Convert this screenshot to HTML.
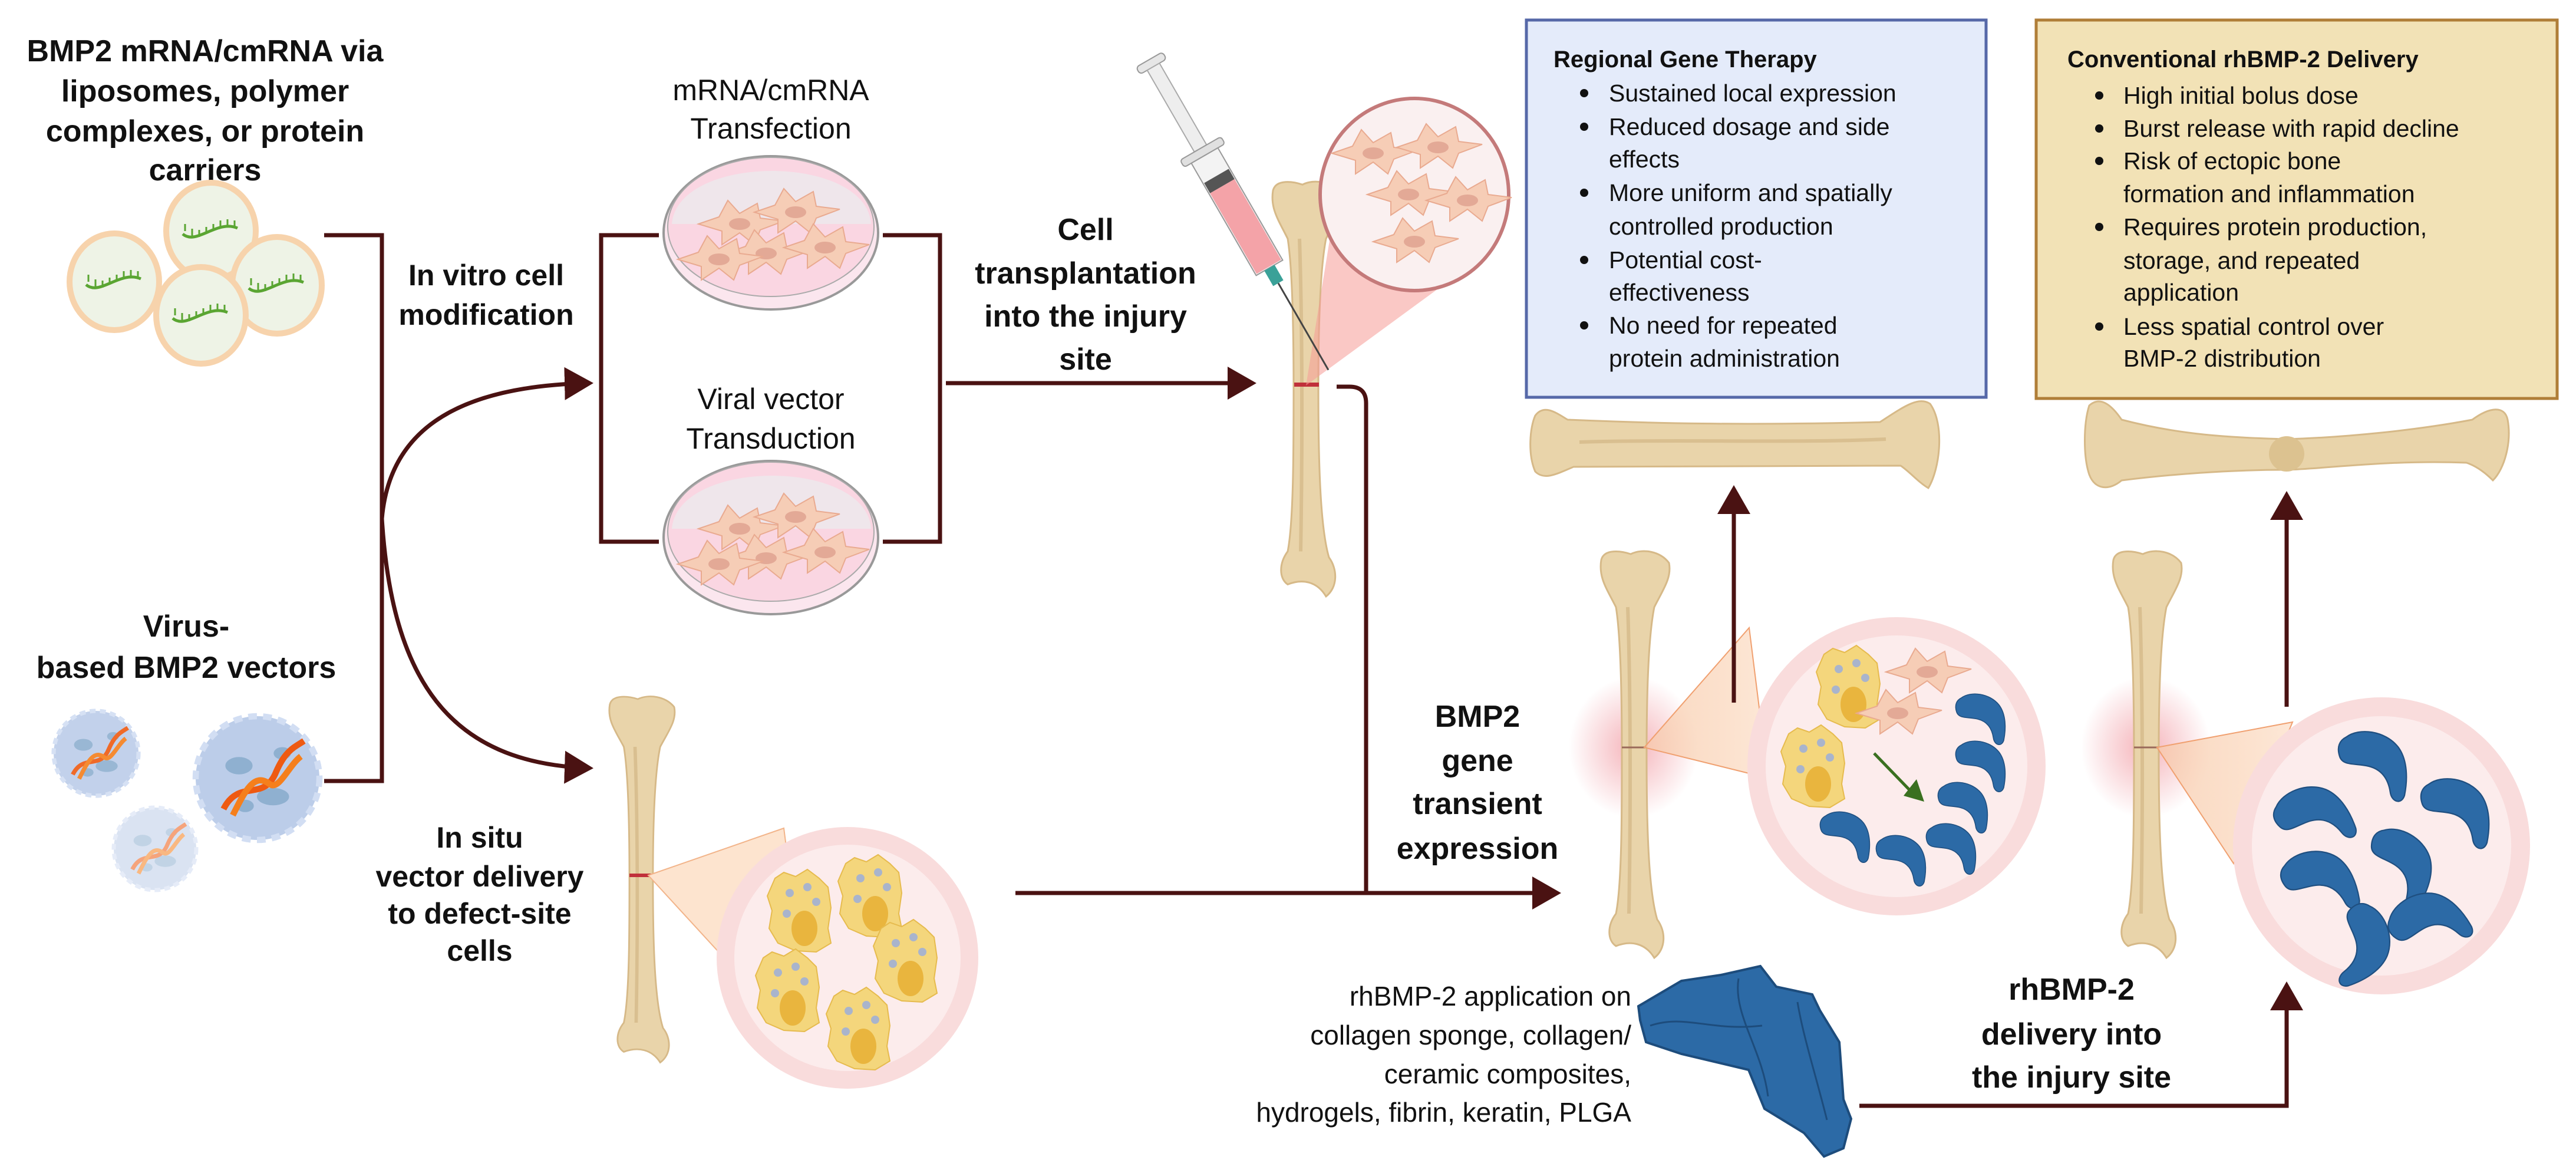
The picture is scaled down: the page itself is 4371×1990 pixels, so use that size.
<!DOCTYPE html>
<html><head><meta charset="utf-8">
<style>
html,body{margin:0;padding:0;background:#fff;}
svg{display:block;}
text{font-family:"Liberation Sans",Arial,sans-serif;}
.b{font-weight:bold;}
</style></head><body>
<svg width="4371" height="1990" viewBox="0 0 4371 1990" xmlns="http://www.w3.org/2000/svg">
<defs>
<marker id="ah" markerWidth="8" markerHeight="8" refX="6" refY="4" orient="auto" markerUnits="strokeWidth">
<path d="M0,0 L7,4 L0,8 Z" fill="#4a1212"/></marker>
<radialGradient id="glow"><stop offset="0" stop-color="#f2a0a8" stop-opacity="0.8"/><stop offset="1" stop-color="#f2a0a8" stop-opacity="0"/></radialGradient>
<linearGradient id="wedge" x1="0" x2="1"><stop offset="0" stop-color="#f7c9a8" stop-opacity="0.7"/><stop offset="1" stop-color="#fde5d2" stop-opacity="0.9"/></linearGradient>
<g id="bonev">
<path d="M-55,-330 C-50,-350 -20,-345 -5,-340 C15,-350 45,-345 60,-325 C65,-300 50,-280 35,-250 C25,-200 22,-100 22,0 C22,120 25,230 40,280 C55,300 55,330 35,345 C20,320 -5,315 -30,325 C-45,315 -45,290 -30,270 C-20,220 -20,100 -20,0 C-20,-100 -22,-200 -30,-250 C-45,-280 -60,-300 -55,-330 Z" fill="#e9d4aa" stroke="#d6b988" stroke-width="3"/>
<path d="M-10,-250 C-5,-100 -5,100 -8,270" stroke="#d9bf90" stroke-width="6" fill="none"/>
</g>
<g id="prot">
<path d="M-40,-45 C-20,-60 20,-55 40,-30 C55,-10 55,20 50,45 C45,60 30,55 28,40 C25,20 15,5 -5,0 C-25,-5 -45,0 -50,-15 C-55,-30 -50,-40 -40,-45 Z" fill="#2c6aa6" stroke="#1f4f80" stroke-width="2"/>
</g>
<g id="fib">
<path d="M-70,0 L-35,-12 L-20,-40 L0,-18 L30,-35 L35,-10 L75,-5 L35,10 L25,35 L0,15 L-30,35 L-30,12 Z" fill="#f6cdb6" stroke="#e9aa90" stroke-width="2"/>
<ellipse cx="0" cy="0" rx="18" ry="10" fill="#e3a996"/>
</g>
<g id="ycell">
<path d="M-45,-55 L-30,-65 L-10,-58 L10,-70 L30,-55 L45,-40 L50,-5 L45,30 L50,55 L25,70 L-10,68 L-40,55 L-55,30 L-50,0 L-58,-25 Z" fill="#f4d67c" stroke="#e6bb4e" stroke-width="2"/>
<ellipse cx="5" cy="30" rx="22" ry="30" fill="#e9b53e"/>
<circle cx="-20" cy="-30" r="7" fill="#a9b4cc"/><circle cx="10" cy="-40" r="7" fill="#a9b4cc"/><circle cx="25" cy="-15" r="7" fill="#a9b4cc"/><circle cx="-25" cy="5" r="7" fill="#a9b4cc"/>
</g>
<g id="lipo">
<ellipse cx="0" cy="0" rx="76" ry="82" fill="#eef3e6" stroke="#f7d3ac" stroke-width="10"/>
<path d="M-48,5 C-25,25 10,-20 45,-5" stroke="#5aa532" stroke-width="5" fill="none"/>
<path d="M-44,0 l0,-12 M-32,8 l0,-12 M-20,10 l0,-12 M-8,5 l0,-12 M4,0 l0,-12 M16,-6 l0,-12 M28,-8 l0,-12 M40,-6 l0,-12" stroke="#5aa532" stroke-width="3"/>
</g>
<g id="virus">
<circle r="100" fill="#bccde9"/>
<circle r="100" fill="none" stroke="#d2def3" stroke-width="10" stroke-dasharray="14 10"/>
<ellipse cx="-30" cy="-20" rx="22" ry="14" fill="#8fb0d0"/><ellipse cx="25" cy="30" rx="26" ry="14" fill="#8fb0d0"/><ellipse cx="-20" cy="45" rx="14" ry="10" fill="#8fb0d0"/><ellipse cx="40" cy="-40" rx="14" ry="10" fill="#8fb0d0"/>
<path d="M-55,50 C-30,0 10,40 30,-10 C45,-45 60,-50 75,-60" stroke="#ee5a12" stroke-width="10" fill="none"/>
<path d="M-40,60 C-20,20 -5,-10 20,10 C35,20 50,-20 70,-35" stroke="#f57f1c" stroke-width="10" fill="none"/>
</g>
</defs>

<g class="b" font-size="52" text-anchor="middle" fill="#111">
<text x="348" y="104" class="b">BMP2 mRNA/cmRNA via</text>
<text x="348" y="172" class="b">liposomes, polymer</text>
<text x="348" y="240" class="b">complexes, or protein</text>
<text x="348" y="306" class="b">carriers</text>
<text x="316" y="1080" class="b">Virus-</text>
<text x="316" y="1150" class="b">based BMP2 vectors</text>
</g>

<use href="#lipo" x="358" y="392"/>
<use href="#lipo" x="194" y="478"/>
<use href="#lipo" x="470" y="484"/>
<use href="#lipo" x="341" y="535"/>

<use href="#virus" transform="translate(163,1278) scale(0.72)" opacity="0.9"/>
<use href="#virus" transform="translate(263,1440) scale(0.7)" opacity="0.55"/>
<use href="#virus" transform="translate(437,1320) scale(1.05)"/>

<g stroke="#4a1212" stroke-width="7" fill="none">
<path d="M550,399 H648 V1325 H550"/>
<path d="M648,880 C660,740 760,655 1000,650" marker-end="url(#ah)"/>
<path d="M648,880 C665,1150 760,1295 1000,1303" marker-end="url(#ah)"/>
<path d="M1118,399 H1020 V919 H1118"/>
<path d="M1498,399 H1595 V919 H1498"/>
<path d="M1605,650 H2125" marker-end="url(#ah)"/>
</g>

<g class="b" font-size="50" text-anchor="middle" fill="#111">
<text x="825" y="484" class="b">In vitro cell</text>
<text x="825" y="551" class="b">modification</text>
<text x="814" y="1438" class="b">In situ</text>
<text x="814" y="1504" class="b">vector delivery</text>
<text x="814" y="1567" class="b">to defect-site</text>
<text x="814" y="1630" class="b">cells</text>
</g>
<g font-size="50" text-anchor="middle" fill="#111">
<text x="1308" y="170">mRNA/cmRNA</text>
<text x="1308" y="235">Transfection</text>
<text x="1308" y="694">Viral vector</text>
<text x="1308" y="761">Transduction</text>
</g>

<g>
<ellipse cx="1308" cy="395" rx="182" ry="130" fill="#fbe6ee" stroke="#999" stroke-width="4"/>
<ellipse cx="1308" cy="385" rx="175" ry="118" fill="#fad6e2" stroke="#aaa" stroke-width="2"/>
<path d="M1140,380 C1150,260 1470,260 1478,380" fill="#e8f0f2" opacity="0.6"/>
<use href="#fib" x="1255" y="380"/><use href="#fib" x="1350" y="360"/><use href="#fib" x="1300" y="430"/><use href="#fib" x="1400" y="420"/><use href="#fib" x="1220" y="440"/>
<ellipse cx="1308" cy="912" rx="182" ry="130" fill="#fbe6ee" stroke="#999" stroke-width="4"/>
<ellipse cx="1308" cy="902" rx="175" ry="118" fill="#fad6e2" stroke="#aaa" stroke-width="2"/>
<path d="M1140,897 C1150,777 1470,777 1478,897" fill="#e8f0f2" opacity="0.6"/>
<use href="#fib" x="1255" y="897"/><use href="#fib" x="1350" y="877"/><use href="#fib" x="1300" y="947"/><use href="#fib" x="1400" y="937"/><use href="#fib" x="1220" y="957"/>
</g>

<g class="b" font-size="52" text-anchor="middle" fill="#111">
<text x="1842" y="407" class="b">Cell</text>
<text x="1842" y="481" class="b">transplantation</text>
<text x="1842" y="554" class="b">into the injury</text>
<text x="1842" y="627" class="b">site</text>
</g>

<use href="#bonev" transform="translate(2215,660) scale(1,1.02)"/>
<rect x="2196" y="649" width="42" height="7" fill="#c0303a"/>
<path d="M2216,654 L2280,260 L2440,490 Z" fill="#f59a96" opacity="0.55"/>
<ellipse cx="2400" cy="330" rx="160" ry="163" fill="#faf0f0" stroke="#c47a7a" stroke-width="6"/>
<use href="#fib" x="2330" y="260"/><use href="#fib" x="2440" y="250"/><use href="#fib" x="2390" y="330"/><use href="#fib" x="2490" y="340"/><use href="#fib" x="2400" y="410"/>
<g transform="translate(1954,108) rotate(60)">
<rect x="-8" y="-26" width="14" height="52" rx="6" fill="#e6e6e6" stroke="#999" stroke-width="2"/>
<rect x="6" y="-12" width="160" height="24" fill="#eeeeee" stroke="#aaa" stroke-width="2"/>
<rect x="166" y="-40" width="14" height="80" rx="5" fill="#e0e0e0" stroke="#999" stroke-width="2"/>
<rect x="180" y="-26" width="220" height="52" fill="#f3f3f3" stroke="#999" stroke-width="2"/>
<rect x="220" y="-24" width="20" height="48" fill="#555"/>
<rect x="240" y="-24" width="158" height="48" fill="#f4a3a8"/>
<rect x="400" y="-10" width="30" height="20" fill="#3aa198"/>
<line x1="430" y1="0" x2="600" y2="0" stroke="#444" stroke-width="3"/>
</g>
<path d="M2268,656 H2290 Q2318,656 2318,684 V1515" stroke="#4a1212" stroke-width="7" fill="none"/>
<path d="M1723,1515 H2642" stroke="#4a1212" stroke-width="7" fill="none" marker-end="url(#ah)"/>

<use href="#bonev" transform="translate(1087,1492) scale(0.95,0.9)"/>
<rect x="1068" y="1482" width="38" height="6" fill="#c0303a"/>
<path d="M1100,1485 L1330,1405 L1380,1790 Z" fill="#fde4cf" stroke="#f2b48a" stroke-width="2"/>
<circle cx="1438" cy="1625" r="222" fill="#f9dcdc"/>
<circle cx="1438" cy="1625" r="192" fill="#fcecec"/>
<use href="#ycell" x="1360" y="1545"/><use href="#ycell" x="1480" y="1520"/><use href="#ycell" x="1540" y="1630"/><use href="#ycell" x="1340" y="1680"/><use href="#ycell" x="1460" y="1745"/>

<g class="b" font-size="52" text-anchor="middle" fill="#111">
<text x="2507" y="1233" class="b">BMP2</text>
<text x="2507" y="1308" class="b">gene</text>
<text x="2507" y="1381" class="b">transient</text>
<text x="2507" y="1457" class="b">expression</text>
<text x="3515" y="1696" class="b">rhBMP-2</text>
<text x="3515" y="1772" class="b">delivery into</text>
<text x="3515" y="1845" class="b">the injury site</text>
</g>

<ellipse cx="2772" cy="1268" rx="110" ry="120" fill="url(#glow)"/>
<use href="#bonev" transform="translate(2772,1280)"/>
<line x1="2752" y1="1268" x2="2794" y2="1268" stroke="#9a6a5a" stroke-width="3"/>
<path d="M2790,1268 L2968,1065 L3000,1320 Z" fill="url(#wedge)" stroke="#f0a070" stroke-width="2"/>
<line x1="2942" y1="1192" x2="2942" y2="830" stroke="#4a1212" stroke-width="7" marker-end="url(#ah)"/>
<circle cx="3218" cy="1300" r="253" fill="#f9dcdc"/>
<circle cx="3218" cy="1300" r="222" fill="#fcecec"/>
<use href="#ycell" x="3140" y="1165"/>
<use href="#ycell" x="3080" y="1300"/>
<use href="#fib" x="3270" y="1140"/><use href="#fib" x="3220" y="1210"/>
<line x1="3180" y1="1278" x2="3240" y2="1340" stroke="#3a7020" stroke-width="5"/>
<path d="M3230,1350 L3265,1360 L3252,1322 Z" fill="#3a7020"/>
<use href="#prot" transform="translate(3360,1220) scale(0.8)"/><use href="#prot" transform="translate(3360,1300) scale(0.8)"/><use href="#prot" transform="translate(3330,1370) scale(0.8)"/><use href="#prot" transform="translate(3310,1440) scale(0.8)"/><use href="#prot" transform="translate(3130,1420) scale(0.8)"/><use href="#prot" transform="translate(3225,1460) scale(0.8)"/>

<ellipse cx="3641" cy="1268" rx="110" ry="120" fill="url(#glow)"/>
<use href="#bonev" transform="translate(3641,1280)"/>
<line x1="3621" y1="1268" x2="3663" y2="1268" stroke="#9a6a5a" stroke-width="3"/>
<path d="M3660,1268 L3890,1225 L3790,1465 Z" fill="url(#wedge)" stroke="#f0a070" stroke-width="2"/>
<line x1="3880" y1="1199" x2="3880" y2="840" stroke="#4a1212" stroke-width="7" marker-end="url(#ah)"/>
<circle cx="4041" cy="1435" r="252" fill="#f9dcdc"/>
<circle cx="4041" cy="1435" r="220" fill="#fcecec"/>
<use href="#prot" transform="translate(4025,1300) scale(1.1)"/>
<use href="#prot" transform="translate(3925,1390) scale(1.1) rotate(-30)"/>
<use href="#prot" transform="translate(4165,1380) scale(1.1)"/>
<use href="#prot" transform="translate(3935,1500) scale(1.1) rotate(-20)"/>
<use href="#prot" transform="translate(4070,1470) scale(1.1) rotate(20)"/>
<use href="#prot" transform="translate(4000,1600) scale(1.1) rotate(60)"/>
<use href="#prot" transform="translate(4120,1570) scale(1.1) rotate(-40)"/>

<g font-size="46" text-anchor="end" fill="#111">
<text x="2768" y="1706">rhBMP-2 application on</text>
<text x="2768" y="1772">collagen sponge, collagen/</text>
<text x="2768" y="1838">ceramic composites,</text>
<text x="2768" y="1903">hydrogels, fibrin, keratin, PLGA</text>
</g>
<path d="M2780,1707 L2853,1664 L2920,1654 L2987,1639 L3014,1674 L3075,1687 L3088,1714 L3121,1768 L3128,1865 L3141,1898 L3128,1948 L3095,1962 L3061,1922 L2994,1881 L2967,1815 L2853,1788 L2793,1768 L2783,1731 Z" fill="#2c6aa6" stroke="#1d4c7c" stroke-width="4"/>
<path d="M2800,1740 C2860,1720 2900,1750 2990,1740 M2950,1660 C2940,1720 2990,1780 3000,1860 M3050,1700 C3060,1760 3080,1820 3100,1900" stroke="#1d4c7c" stroke-width="3" fill="none"/>
<path d="M3155,1876 H3880 V1672" stroke="#4a1212" stroke-width="7" fill="none" marker-end="url(#ah)"/>

<rect x="2590" y="34" width="780" height="640" fill="#e4ebfa" stroke="#5668a8" stroke-width="5"/>
<text x="2636" y="114" font-size="40" class="b" fill="#111">Regional Gene Therapy</text>
<g font-size="41" fill="#111">
<text x="2730" y="172">Sustained local expression</text>
<text x="2730" y="229">Reduced dosage and side</text>
<text x="2730" y="284">effects</text>
<text x="2730" y="341">More uniform and spatially</text>
<text x="2730" y="398">controlled production</text>
<text x="2730" y="455">Potential cost-</text>
<text x="2730" y="510">effectiveness</text>
<text x="2730" y="566">No need for repeated</text>
<text x="2730" y="622">protein administration</text>
</g>
<g fill="#111"><circle cx="2688" cy="158" r="7"/><circle cx="2688" cy="215" r="7"/><circle cx="2688" cy="327" r="7"/><circle cx="2688" cy="441" r="7"/><circle cx="2688" cy="552" r="7"/></g>

<rect x="3455" y="34" width="884" height="642" fill="#f2e2b6" stroke="#b07e38" stroke-width="5"/>
<text x="3508" y="114" font-size="40" class="b" fill="#111">Conventional rhBMP-2 Delivery</text>
<g font-size="41" fill="#111">
<text x="3603" y="176">High initial bolus dose</text>
<text x="3603" y="232">Burst release with rapid decline</text>
<text x="3603" y="287">Risk of ectopic bone</text>
<text x="3603" y="343">formation and inflammation</text>
<text x="3603" y="399">Requires protein production,</text>
<text x="3603" y="456">storage, and repeated</text>
<text x="3603" y="510">application</text>
<text x="3603" y="568">Less spatial control over</text>
<text x="3603" y="622">BMP-2 distribution</text>
</g>
<g fill="#111"><circle cx="3562" cy="162" r="7"/><circle cx="3562" cy="218" r="7"/><circle cx="3562" cy="273" r="7"/><circle cx="3562" cy="385" r="7"/><circle cx="3562" cy="554" r="7"/></g>

<path d="M2605,705 C2620,685 2640,700 2660,712 C2800,718 2950,722 3190,716 C3230,690 3255,672 3275,685 C3300,720 3292,795 3272,828 C3255,818 3240,800 3225,790 C3000,792 2800,790 2670,792 C2640,805 2620,815 2605,800 C2592,770 2596,725 2605,705 Z" fill="#e9d4aa" stroke="#d6b988" stroke-width="3"/>
<path d="M2680,750 C2850,745 3050,752 3200,745" stroke="#d9bf90" stroke-width="6" fill="none"/>
<path d="M3545,688 C3565,670 3585,690 3600,712 C3700,738 3780,742 3880,745 C3980,742 4100,730 4195,712 C4225,690 4250,688 4255,712 C4262,750 4250,795 4230,815 C4215,800 4200,790 4185,785 C4050,780 3950,795 3880,797 C3780,797 3680,805 3600,815 C3580,832 3555,832 3545,805 C3535,775 3535,720 3545,688 Z" fill="#e9d4aa" stroke="#d6b988" stroke-width="3"/>
<ellipse cx="3880" cy="770" rx="30" ry="30" fill="#dcc290"/>
</svg>
</body></html>
